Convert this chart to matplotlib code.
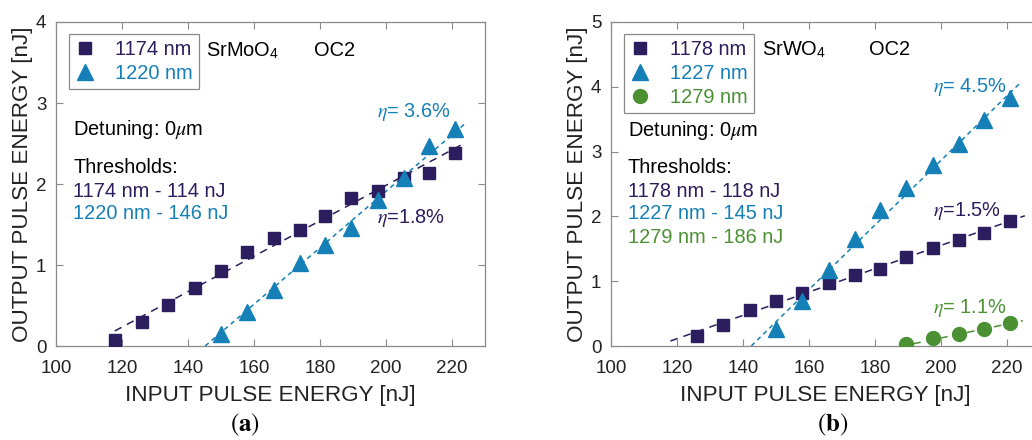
import matplotlib
matplotlib.use("Agg")
import matplotlib.pyplot as plt

plt.rcParams['font.family'] = ['Liberation Sans', 'DejaVu Sans']
plt.rcParams['mathtext.fontset'] = 'stix'

# ---------------- data: panel (a) SrMoO4 ----------------
a_x = [118, 126, 134, 142, 150, 158, 166, 174, 181.5, 189.5, 197.5, 205.5, 213, 221]
a_1174 = [0.08, 0.30, 0.51, 0.72, 0.93, 1.16, 1.33, 1.43, 1.61, 1.83, 1.91, 2.08, 2.13, 2.38]
a_x_1220 = [150, 158, 166, 174, 181.5, 189.5, 197.5, 205.5, 213, 221]
a_1220 = [0.15, 0.42, 0.69, 1.03, 1.25, 1.46, 1.80, 2.08, 2.47, 2.68]
a_fit_1174_x = [117.8, 223.6]
a_fit_1174_y = [0.185, 2.50]
a_fit_1220_x = [145.2, 224.1]
a_fit_1220_y = [0.0, 2.75]

# ---------------- data: panel (b) SrWO4 ----------------
b_x_1178 = [126, 134, 142, 150, 158, 166, 174, 181.5, 189.5, 197.5, 205.5, 213, 221]
b_1178 = [0.16, 0.32, 0.56, 0.69, 0.82, 0.97, 1.09, 1.19, 1.38, 1.51, 1.64, 1.75, 1.93]
b_x_1227 = [150, 158, 166, 174, 181.5, 189.5, 197.5, 205.5, 213, 221]
b_1227 = [0.27, 0.70, 1.18, 1.65, 2.10, 2.44, 2.79, 3.12, 3.49, 3.83]
b_x_1279 = [189.5, 197.5, 205.5, 213, 221]
b_1279 = [0.03, 0.12, 0.18, 0.27, 0.35]
b_fit_1178_x = [118.0, 225.4]
b_fit_1178_y = [0.077, 2.01]
b_fit_1227_x = [142.5, 223.8]
b_fit_1227_y = [0.0, 4.05]
b_fit_1279_x = [187.5, 224.8]
b_fit_1279_y = [-0.01, 0.39]

xticks = [100, 120, 140, 160, 180, 200, 220]

NAVY = '#2c1d5e'
BLUE = '#1580b8'
GREEN = '#4b9133'
SPINE = '#8a8a8a'

fig = plt.figure(figsize=(10.32, 4.4), dpi=100)
axA = fig.add_axes([56/1032, 94/440, 429/1032, 324/440])
axB = fig.add_axes([611/1032, 94/440, 429/1032, 324/440])

FS_TICK = 13.5
FS_LAB = 16.2
FS_TXT = 14.4

def style(ax, ymax):
    ax.set_xlim(100, 230)
    ax.set_ylim(0, ymax)
    ax.set_xticks(xticks)
    ax.set_yticks(range(0, ymax + 1))
    for s in ax.spines.values():
        s.set_color(SPINE)
        s.set_linewidth(0.9)
    ax.tick_params(direction='in', top=True, right=True, length=5, width=0.8,
                   color=SPINE, labelsize=FS_TICK, labelcolor='#222222')
    ax.tick_params(axis='x', pad=10)
    ax.tick_params(axis='y', pad=7)
    ax.set_xlabel('INPUT PULSE ENERGY [nJ]', fontsize=FS_LAB, color='#222222', labelpad=6)
    ax.set_ylabel('OUTPUT PULSE ENERGY [nJ]', fontsize=FS_LAB, color='#222222', labelpad=2)

def leg(ax, colors):
    lg = ax.legend(loc='upper left', bbox_to_anchor=(0.031, 0.963), fontsize=FS_TXT,
                   frameon=True, fancybox=False, edgecolor=SPINE, handlelength=1.0,
                   handletextpad=1.0, borderpad=0.3, labelspacing=0.25, borderaxespad=0,
                   framealpha=1)
    for t, c in zip(lg.get_texts(), colors):
        t.set_color(c)
    lg.get_frame().set_linewidth(0.9)

# ---- panel (a)
axA.plot(a_fit_1174_x, a_fit_1174_y, '--', color=NAVY, lw=1.1, dashes=(5, 4), zorder=2)
axA.plot(a_fit_1220_x, a_fit_1220_y, '--', color=BLUE, lw=1.1, dashes=(3, 2.5), zorder=2)
axA.plot(a_x, a_1174, 's', color=NAVY, ms=9, zorder=3, label='1174 nm')
axA.plot(a_x_1220, a_1220, '^', color=BLUE, ms=12, zorder=3, label='1220 nm')
style(axA, 4)
axA.text(145.6, 3.65, r'SrMoO$_\mathregular{4}$', fontsize=FS_TXT, va='center')
axA.text(178.3, 3.65, 'OC2', fontsize=FS_TXT, va='center')
axA.text(105.2, 2.67, r'Detuning: 0$\mu$m', fontsize=FS_TXT, va='center')
axA.text(105.2, 2.20, 'Thresholds:', fontsize=FS_TXT, va='center')
axA.text(105.2, 1.91, '1174 nm - 114 nJ', fontsize=FS_TXT, va='center', color=NAVY)
axA.text(105.2, 1.64, '1220 nm - 146 nJ', fontsize=FS_TXT, va='center', color=BLUE)
axA.text(197.3, 2.89, r'$\eta$= 3.6%', fontsize=FS_TXT, va='center', color=BLUE)
axA.text(197.3, 1.58, r'$\eta$=1.8%', fontsize=FS_TXT, va='center', color=NAVY)
leg(axA, [NAVY, BLUE])

# ---- panel (b)
axB.plot(b_fit_1178_x, b_fit_1178_y, '--', color=NAVY, lw=1.1, dashes=(5, 4), zorder=2)
axB.plot(b_fit_1227_x, b_fit_1227_y, '--', color=BLUE, lw=1.1, dashes=(3, 2.5), zorder=2)
axB.plot(b_fit_1279_x, b_fit_1279_y, '--', color=GREEN, lw=1.1, dashes=(5, 4), zorder=2)
axB.plot(b_x_1178, b_1178, 's', color=NAVY, ms=9, zorder=3, label='1178 nm')
axB.plot(b_x_1227, b_1227, '^', color=BLUE, ms=12, zorder=3, label='1227 nm')
axB.plot(b_x_1279, b_1279, 'o', color=GREEN, ms=10, zorder=3, label='1279 nm')
style(axB, 5)
axB.text(145.7, 4.57, r'SrWO$_\mathregular{4}$', fontsize=FS_TXT, va='center')
axB.text(178.1, 4.57, 'OC2', fontsize=FS_TXT, va='center')
axB.text(105.1, 3.33, r'Detuning: 0$\mu$m', fontsize=FS_TXT, va='center')
axB.text(105.1, 2.75, 'Thresholds:', fontsize=FS_TXT, va='center')
axB.text(105.1, 2.39, '1178 nm - 118 nJ', fontsize=FS_TXT, va='center', color=NAVY)
axB.text(105.1, 2.05, '1227 nm - 145 nJ', fontsize=FS_TXT, va='center', color=BLUE)
axB.text(105.1, 1.68, '1279 nm - 186 nJ', fontsize=FS_TXT, va='center', color=GREEN)
axB.text(197.5, 4.00, r'$\eta$= 4.5%', fontsize=FS_TXT, va='center', color=BLUE)
axB.text(197.5, 2.09, r'$\eta$=1.5%', fontsize=FS_TXT, va='center', color=NAVY)
axB.text(197.5, 0.58, r'$\eta$= 1.1%', fontsize=FS_TXT, va='center', color=GREEN)
leg(axB, [NAVY, BLUE, GREEN])

# panel letters
fig.text(245/1032, 1 - 425/440, r'$(\mathbf{a})$', fontsize=18, ha='center', va='center')
fig.text(833/1032, 1 - 425/440, r'$(\mathbf{b})$', fontsize=18, ha='center', va='center')

fig.savefig('out.png', dpi=100)
